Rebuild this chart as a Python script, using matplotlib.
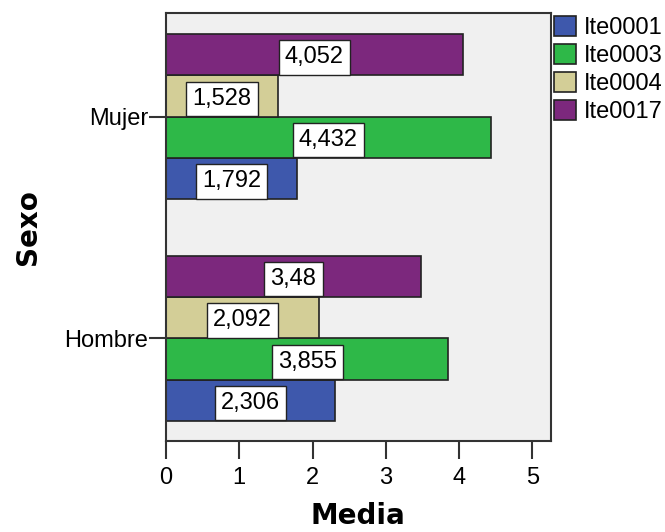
import matplotlib.pyplot as plt
import numpy as np

plt.rcParams['font.family'] = ['Liberation Sans', 'DejaVu Sans']

# Data
groups = ["Hombre", "Mujer"]
items = ["Ite0001", "Ite0003", "Ite0004", "Ite0017"]
ite0001 = [2.306, 1.792]
ite0003 = [3.855, 4.432]
ite0004 = [2.092, 1.528]
ite0017 = [3.48, 4.052]
labels = [["2,306", "1,792"], ["3,855", "4,432"], ["2,092", "1,528"], ["3,48", "4,052"]]

colors = ["#3E58AC", "#2EB848", "#D3CE97", "#7C287D"]
series = [ite0001, ite0003, ite0004, ite0017]

fig = plt.figure(figsize=(6.65, 5.32), dpi=100)
ax = fig.add_axes([0.2496, 0.171, 0.5785, 0.8046])
ax.set_facecolor("#F0F0F0")

y = np.arange(len(groups))
h = 0.1865
fs = 17
for i, (vals, col) in enumerate(zip(series, colors)):
    pos = y + (i - 1.5) * h
    ax.barh(pos, vals, height=h, color=col, edgecolor="#222222", linewidth=1.2, label=items[i])
    for p, v, t in zip(pos, vals, labels[i]):
        ax.text(v / 2, p - 0.012, t, ha="center", va="center", fontsize=fs,
                bbox=dict(boxstyle="square,pad=0.26", facecolor="white", edgecolor="#222222", linewidth=1.0))

ax.set_xlim(0, 5.25)
ax.set_ylim(-0.463, 1.468)
ax.set_xticks([0, 1, 2, 3, 4, 5])
ax.set_yticks(y)
ax.set_yticklabels(groups)
ax.tick_params(axis="both", labelsize=fs, direction="out", width=1.5, color="#333333")
ax.tick_params(axis="x", length=13, pad=6)
ax.tick_params(axis="y", length=12, pad=1)
for s in ax.spines.values():
    s.set_color("#333333")
    s.set_linewidth(1.5)

ax.set_xlabel("Media", fontsize=20, fontweight="bold", family="DejaVu Sans", labelpad=9)
ax.set_ylabel("Sexo", fontsize=20, fontweight="bold", family="DejaVu Sans", labelpad=16)

handles, leg_labels = ax.get_legend_handles_labels()
fig.legend(handles, leg_labels, loc="upper left", bbox_to_anchor=(0.833, 0.97), frameon=False,
           fontsize=fs, handlelength=0.95, handleheight=0.9, handletextpad=0.3, labelspacing=0.22,
           borderaxespad=0, borderpad=0)

fig.savefig("out.png", dpi=100)
